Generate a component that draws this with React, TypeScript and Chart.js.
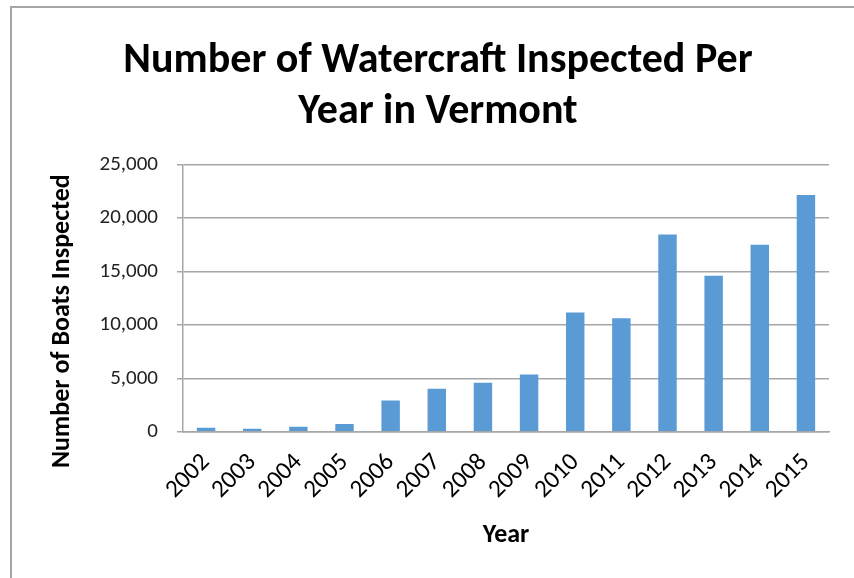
import React, { useEffect, useRef } from "react";
import { Chart, registerables } from "chart.js";

Chart.register(...registerables);

const years = ["2002", "2003", "2004", "2005", "2006", "2007", "2008", "2009", "2010", "2011", "2012", "2013", "2014", "2015"];
const boatsInspected = [380, 290, 470, 720, 2930, 4030, 4590, 5350, 11150, 10610, 18440, 14600, 17500, 22150];
const yTicks = [0, 5000, 10000, 15000, 20000, 25000];
const titleLines = ["Number of Watercraft Inspected Per", "Year in Vermont"];
const xTitle = "Year";
const yTitle = "Number of Boats Inspected";

const FONT = "Carlito, Calibri, Lato, sans-serif";

const yTitlePlugin = {
  id: "yTitlePlugin",
  afterDraw(chart: any) {
    const { ctx, chartArea } = chart;
    ctx.save();
    ctx.font = `bold 26px ${FONT}`;
    ctx.fillStyle = "#000000";
    ctx.textAlign = "center";
    ctx.textBaseline = "middle";
    ctx.translate(62, (chartArea.top + chartArea.bottom) / 2 + 23);
    ctx.rotate(-Math.PI / 2);
    ctx.fillText(yTitle, 0, 0);
    ctx.restore();
  },
};

export default function App() {
  const ref = useRef<HTMLCanvasElement | null>(null);

  useEffect(() => {
    if (!ref.current) return;
    const chart = new Chart(ref.current, {
      type: "bar",
      data: {
        labels: years,
        datasets: [
          {
            data: boatsInspected,
            backgroundColor: "#5B9BD5",
            borderWidth: 0,
            barPercentage: 0.4,
            categoryPercentage: 1,
          },
        ],
      },
      plugins: [yTitlePlugin],
      options: {
        responsive: false,
        animation: false,
        layout: { padding: { left: 47, right: 25, top: 0, bottom: 27 } },
        plugins: {
          legend: { display: false },
          tooltip: { enabled: false },
          title: {
            display: true,
            text: titleLines,
            color: "#000000",
            font: { family: FONT, size: 42, weight: "bold", lineHeight: 1.22 },
            padding: { top: 36, bottom: 26 },
          },
        },
        scales: {
          x: {
            afterFit: (s: any) => {
              s.paddingLeft = 0;
              s.paddingRight = 0;
            },
            grid: { display: false },
            border: { display: true, color: "#a6a6a6", width: 1.5 },
            ticks: {
              color: "#000000",
              font: { family: FONT, size: 25 },
              minRotation: 45,
              maxRotation: 45,
              autoSkip: false,
              padding: 8,
            },
            title: {
              display: true,
              text: xTitle,
              color: "#000000",
              font: { family: FONT, size: 26, weight: "bold" },
              padding: { top: 7, bottom: 0 },
            },
          },
          y: {
            min: 0,
            max: 25000,
            afterBuildTicks: (axis: any) => {
              axis.ticks = yTicks.map((v) => ({ value: v }));
            },
            afterFit: (s: any) => {
              s.width = 136;
            },
            grid: {
              color: "#a6a6a6",
              lineWidth: 1.5,
              drawTicks: true,
              tickLength: 6,
            },
            border: { display: true, color: "#a6a6a6", width: 1.5 },
            ticks: {
              color: "#222222",
              font: { family: FONT, size: 21 },
              padding: 19,
              callback: (v: any) => Number(v).toLocaleString("en-US"),
            },
            title: { display: false },
          },
        },
      },
    });
    return () => chart.destroy();
  }, []);

  return (
    <div style={{ position: "fixed", left: 0, top: 0, width: 854, height: 578, overflow: "hidden", background: "#fff" }}>
      <div
        style={{
          position: "absolute",
          left: 10,
          top: 6,
          width: 900,
          height: 700,
          borderTop: "2px solid #a6a6a6",
          borderLeft: "2px solid #a6a6a6",
        }}
      />
      <canvas ref={ref} width={854} height={578} style={{ position: "absolute", left: 0, top: 0 }} />
    </div>
  );
}
